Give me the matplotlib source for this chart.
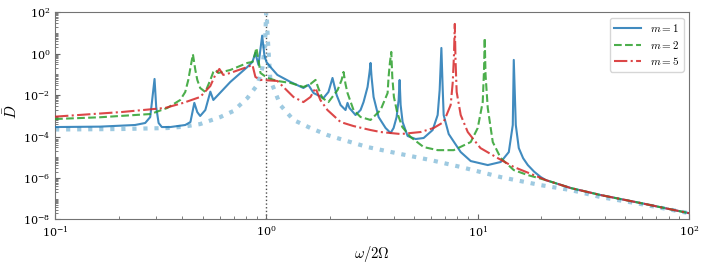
import numpy as np
import matplotlib.pyplot as plt
from matplotlib.ticker import LogLocator, NullFormatter

plt.rcParams['mathtext.fontset'] = 'cm'
plt.rcParams['font.family'] = 'serif'
plt.rcParams['font.serif'] = ['DejaVu Serif']

## data (omega / 2 Omega, D bar)
w_m1 = [0.1, 0.163, 0.239, 0.267, 0.282, 0.287, 0.2956, 0.301, 0.309, 0.320, 0.351, 0.413, 0.437,
        0.456, 0.471, 0.486, 0.514, 0.543, 0.561, 0.675, 0.813, 0.859, 0.887, 0.917,
        0.955, 0.978, 1.0, 1.044, 1.127, 1.30, 1.497, 1.58, 1.671, 1.862, 1.966,
        2.055, 2.15, 2.244, 2.368, 2.42, 2.47, 2.641, 2.790, 2.883, 3.011, 3.078, 3.111,
        3.145, 3.215, 3.395, 3.664, 3.870, 3.999, 4.132, 4.224, 4.27, 4.317, 4.411, 4.658,
        5.084, 5.548, 6.119, 6.462, 6.605, 6.730, 6.825, 6.900, 7.289, 8.307, 9.265,
        11.154, 12.85, 14.03, 14.65, 14.81, 15.14, 15.64, 16.4, 17.26, 18.5, 19.89, 21.0,
        27.6, 38.3, 59.3, 100]
D_m1 = [2.87e-4, 3.0e-4, 3.6e-4, 4.5e-4, 8.7e-4, 4.15e-3, 0.060, 2.66e-3, 4.5e-4, 2.87e-4, 2.87e-4, 3.6e-4, 5e-4,
        4.2e-3, 1.5e-3, 9.8e-4, 1.9e-3, 0.0146, 5.8e-3, 0.043, 0.228, 0.40, 1.08, 0.285,
        7.4, 0.865, 0.40, 0.228, 0.094, 0.043, 0.022, 0.031, 0.0126, 0.0072, 0.0141,
        0.067, 0.010, 3.3e-3, 1.9e-3, 4.2e-3, 2.4e-3, 1.09e-3, 1.91e-3, 4.64e-3, 0.0246, 0.131, 0.356,
        0.0749, 8.1e-3, 8.75e-4, 2.58e-4, 1.48e-4, 2.58e-4, 8.75e-4, 5.8e-3, 0.0536, 3.33e-3, 5.0e-4, 1.06e-4,
        7.57e-5, 8.5e-5, 2.06e-4, 1.09e-3, 0.0176, 1.88, 0.022, 1.09e-3, 1.32e-4, 1.78e-5, 6.55e-6,
        4.2e-6, 5.9e-6, 1.78e-5, 3.6e-4, 0.497, 3.6e-4, 2.78e-5, 9.0e-6, 4.2e-6, 2.0e-6, 1.1e-6, 7.9e-7,
        3.25e-7, 1.49e-7, 6.1e-8, 2.0e-8]

w_m2 = [0.1, 0.163, 0.283, 0.340, 0.391, 0.413, 0.427, 0.437, 0.449, 0.461, 0.471,
        0.486, 0.514, 0.543, 0.561, 0.573, 0.593, 0.675, 0.813, 0.859, 0.877, 0.897,
        0.917, 0.937, 1.011, 1.127, 1.30, 1.497, 1.617, 1.708, 1.76, 1.84, 1.966,
        2.173, 2.27, 2.317, 2.368, 2.42, 2.584, 2.790, 3.11, 3.47, 3.746, 3.786, 3.840,
        3.899, 3.942, 4.012, 4.163, 4.397, 4.81, 5.548, 6.462, 7.697, 9.265, 10.0, 10.56,
        10.71, 10.79, 10.89, 11.154, 11.78, 12.85, 14.81, 17.26, 21.0, 27.6, 38.3, 59.3, 100]
D_m2 = [7.0e-4, 8.5e-4, 1.22e-3, 2.4e-3, 5.8e-3, 0.0141, 0.054, 0.204, 0.935, 0.163, 0.054,
        0.022, 0.0141, 0.054, 0.131, 0.163, 0.117, 0.163, 0.356, 0.40, 0.75, 1.88,
        0.50, 0.117, 0.067, 0.048, 0.0385, 0.0246, 0.0344, 0.054, 0.022, 0.0072, 0.0046,
        0.0176, 0.054, 0.131, 0.034, 0.0126, 1.9e-3, 8.75e-4, 6.3e-4, 1.91e-3, 0.0126, 0.0749, 0.356,
        1.21, 0.0749, 8.1e-3, 1.37e-3, 2.87e-4, 9.5e-5, 3.1e-5, 2.2e-5, 2.2e-5, 5.42e-5, 2.58e-4, 4.64e-3,
        0.163, 5.73, 0.094, 2.38e-3, 5.42e-5, 9.1e-6, 2.4e-6, 1.38e-6, 7.9e-7, 3.25e-7, 1.49e-7, 6.1e-8, 2.0e-8]

w_m5 = [0.1, 0.208, 0.332, 0.404, 0.486, 0.543, 0.573, 0.599, 0.625, 0.675, 0.813,
        0.859, 0.887, 0.937, 1.127, 1.343, 1.497, 1.617, 1.708, 1.80, 1.945, 2.244,
        2.584, 3.11, 3.47, 4.32, 5.37, 6.186, 6.90, 7.447, 7.62, 7.72, 7.79, 7.85, 7.95,
        8.307, 8.97, 10.3, 12.44, 14.81, 18.43, 21.0, 27.6, 38.3, 59.3, 100]
D_m5 = [9.1e-4, 1.53e-3, 2.4e-3, 4.2e-3, 8.1e-3, 0.0275, 0.094, 0.182, 0.094, 0.117, 0.228,
        0.285, 0.075, 0.054, 0.048, 0.0081, 0.0046, 0.0081, 0.022, 0.0058, 1.9e-3, 5e-4,
        3.2e-4, 2.06e-4, 1.65e-4, 1.32e-4, 1.65e-4, 2.58e-4, 5.0e-4, 3.33e-3, 0.043, 0.865, 27.2, 0.497, 0.0141,
        1.09e-3, 1.65e-4, 2.78e-5, 9.1e-6, 3.4e-6, 1.38e-6, 7.9e-7, 3.25e-7, 1.49e-7, 6.1e-8, 2.0e-8]

# the light dotted reference curve (diverges at omega = 2 Omega)
w_ref = [0.1, 0.203, 0.340, 0.404, 0.486, 0.605, 0.698, 0.813, 0.906, 0.957, 0.984, 0.998,
         1.002, 1.016, 1.044, 1.164, 1.343, 1.617, 1.945, 2.317, 3.01, 4.32, 5.99, 8.30,
         12.85, 19.9, 27.6, 38.3, 59.3, 100]
D_ref = [2.18e-4, 2.3e-4, 2.57e-4, 2.97e-4, 4.0e-4, 8.7e-4, 1.7e-3, 7.2e-3, 0.031, 0.204, 2.6, 100,
         100, 4.6, 0.054, 3.3e-3, 6.3e-4, 2.57e-4, 1.18e-4, 6.8e-5, 3.1e-5, 1.43e-5, 7.3e-6, 3.4e-6,
         1.1e-6, 4.5e-7, 2.6e-7, 1.19e-7, 5.5e-8, 2.0e-8]

y_major = [1e-8, 1e-6, 1e-4, 1e-2, 1e0, 1e2]


## plotting
fig = plt.figure(figsize=(7.06, 2.65), dpi=100)
ax = fig.add_axes([0.078, 0.172, 0.898, 0.782])

ax.axvline(1.0, color='0.3', ls=':', lw=1.0, zorder=1)
ax.plot(w_ref, D_ref, color='#9ecae1', ls=':', lw=3, zorder=2)
ax.plot(w_m1, D_m1, color='C0', lw=1.5, alpha=0.85, label=r'$m=1$', zorder=3)
ax.plot(w_m2, D_m2, color='C2', ls='--', lw=1.5, alpha=0.85, label=r'$m=2$', zorder=3)
ax.plot(w_m5, D_m5, color='C3', ls='-.', lw=1.5, alpha=0.85, label=r'$m=5$', zorder=3)

ax.set_xscale('log')
ax.set_yscale('log')
ax.set_xlim(0.1, 100)
ax.set_ylim(1e-8, 1e2)
ax.set_yticks(y_major)
ax.yaxis.set_minor_locator(LogLocator(base=10, subs=np.arange(1, 10), numticks=100))
ax.yaxis.set_minor_formatter(NullFormatter())

ax.set_xlabel(r'$\omega/2\Omega$', fontsize=10.5)
ax.set_ylabel(r'$\bar{D}$', fontsize=11)
ax.yaxis.set_label_coords(-0.055, 0.52)
ax.tick_params(which='both', direction='in', color='0.4', labelsize=8)
for s in ax.spines.values():
    s.set_color('0.45')

ax.legend(loc='upper right', fontsize=8, labelspacing=0.4, handlelength=2.4)
fig.savefig('out.png', dpi=100)
